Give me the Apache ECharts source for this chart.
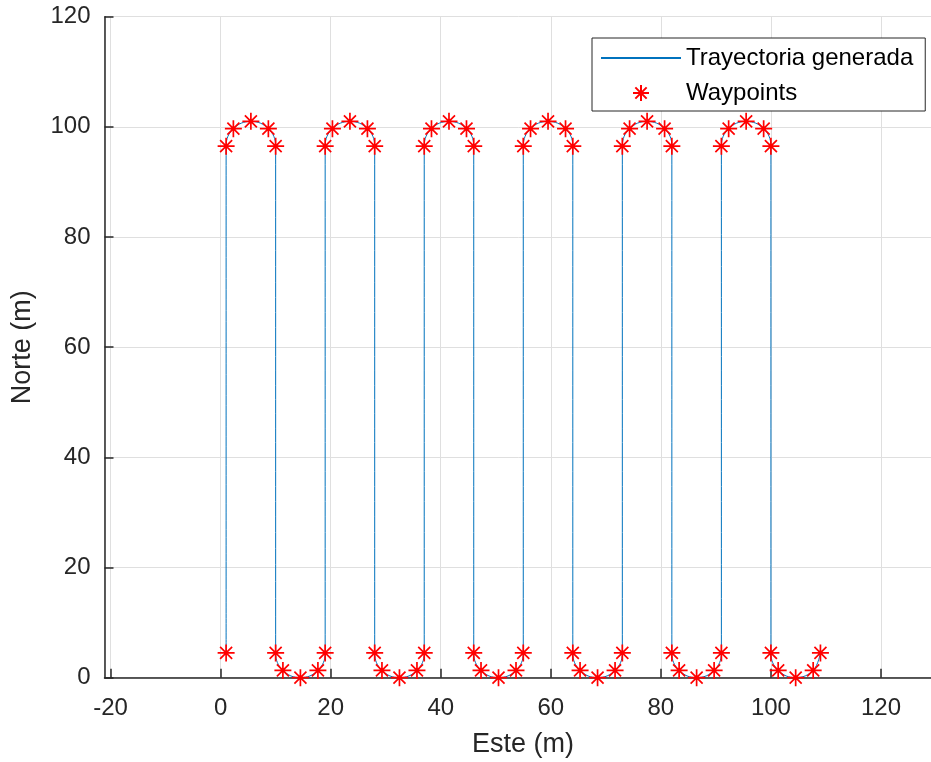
<!DOCTYPE html>
<html>
<head>
<meta charset="utf-8">
<script src="https://cdn.jsdelivr.net/npm/echarts@6/dist/echarts.min.js"></script>
<style>
  html, body { margin: 0; padding: 0; background: #fff; }
  #chart { width: 931px; height: 762px; }
</style>
</head>
<body>
<div id="chart"></div>
<script>
// waypoints (Este, Norte) in metres, in path order
const waypointE = [
  1,
  1, 2.32, 5.5, 8.68, 10,
  10, 11.32, 14.5, 17.68, 19,
  19, 20.32, 23.5, 26.68, 28,
  28, 29.32, 32.5, 35.68, 37,
  37, 38.32, 41.5, 44.68, 46,
  46, 47.32, 50.5, 53.68, 55,
  55, 56.32, 59.5, 62.68, 64,
  64, 65.32, 68.5, 71.68, 73,
  73, 74.32, 77.5, 80.68, 82,
  82, 83.32, 86.5, 89.68, 91,
  91, 92.32, 95.5, 98.68, 100,
  100, 101.32, 104.5, 107.68, 109
]
const waypointN = [
  4.5,
  96.5, 99.68, 101, 99.68, 96.5,
  4.5, 1.32, 0, 1.32, 4.5,
  96.5, 99.68, 101, 99.68, 96.5,
  4.5, 1.32, 0, 1.32, 4.5,
  96.5, 99.68, 101, 99.68, 96.5,
  4.5, 1.32, 0, 1.32, 4.5,
  96.5, 99.68, 101, 99.68, 96.5,
  4.5, 1.32, 0, 1.32, 4.5,
  96.5, 99.68, 101, 99.68, 96.5,
  4.5, 1.32, 0, 1.32, 4.5,
  96.5, 99.68, 101, 99.68, 96.5,
  4.5, 1.32, 0, 1.32, 4.5
]
const seriesNames = ['Trayectoria generada', 'Waypoints']

const FONT = "'Liberation Sans', Arial, Helvetica, sans-serif"
const INK = '#262626'

const points = waypointE.map((e, i) => [e, waypointN[i]])

// asterisco estilo MATLAB (+ y x superpuestos)
const starPath = 'path://M0,-1L0,1M-1,0L1,0M-0.707,-0.707L0.707,0.707M-0.707,0.707L0.707,-0.707'

const axisCommon = {
  type: 'value',
  axisLine: { show: true, onZero: false, lineStyle: { color: INK, width: 1.5 } },
  axisTick: { show: true, inside: true, length: 9, lineStyle: { color: INK, width: 1.5 } },
  splitLine: { show: true, lineStyle: { color: '#dfdfdf', width: 1 } },
  axisLabel: { color: INK, fontFamily: FONT, fontSize: 24 },
  nameLocation: 'middle',
  nameTextStyle: { color: INK, fontFamily: FONT, fontSize: 27 }
}

const option = {
  animation: false,
  backgroundColor: '#fff',
  // el eje x sigue un poco más allá del borde derecho (figura recortada)
  grid: { left: 104.5, top: 16.7, width: 837, height: 661, outerBoundsMode: 'none', containLabel: false },
  legend: {
    orient: 'vertical',
    left: 592,
    top: 38,
    padding: [8, 12, 6, 8],
    itemWidth: 80,
    itemHeight: 16,
    itemGap: 11,
    backgroundColor: '#fff',
    borderColor: INK,
    borderWidth: 1,
    borderRadius: 0,
    textStyle: { color: '#000', fontFamily: FONT, fontSize: 24, lineHeight: 24 },
    data: [
      { name: seriesNames[0], itemStyle: { opacity: 0 } },
      { name: seriesNames[1] }
    ]
  },
  xAxis: Object.assign({}, axisCommon, {
    name: 'Este (m)',
    nameGap: 53,
    min: -21.1,
    max: 131,
    splitNumber: 7,
    axisLabel: Object.assign({}, axisCommon.axisLabel, { margin: 19, showMinLabel: false, showMaxLabel: false })
  }),
  yAxis: Object.assign({}, axisCommon, {
    name: 'Norte (m)',
    nameGap: 68,
    nameRotate: 90,
    min: 0,
    max: 120,
    interval: 20,
    axisLabel: Object.assign({}, axisCommon.axisLabel, { margin: 14 })
  }),
  series: [
    {
      name: seriesNames[0],
      type: 'line',
      data: points,
      smooth: 0.4,
      symbol: 'none',
      lineStyle: { color: '#0072BD', width: 1 },
      itemStyle: { color: '#0072BD' },
      z: 2
    },
    {
      name: seriesNames[1],
      type: 'scatter',
      data: points,
      symbol: starPath,
      symbolSize: 17,
      itemStyle: { color: 'rgba(0,0,0,0)', borderColor: '#ff0000', borderWidth: 1.7, opacity: 1 },
      z: 3
    }
  ]
}

const myChart = echarts.init(document.getElementById('chart'), null, { renderer: 'canvas' })
myChart.setOption(option)
</script>
</body>
</html>
